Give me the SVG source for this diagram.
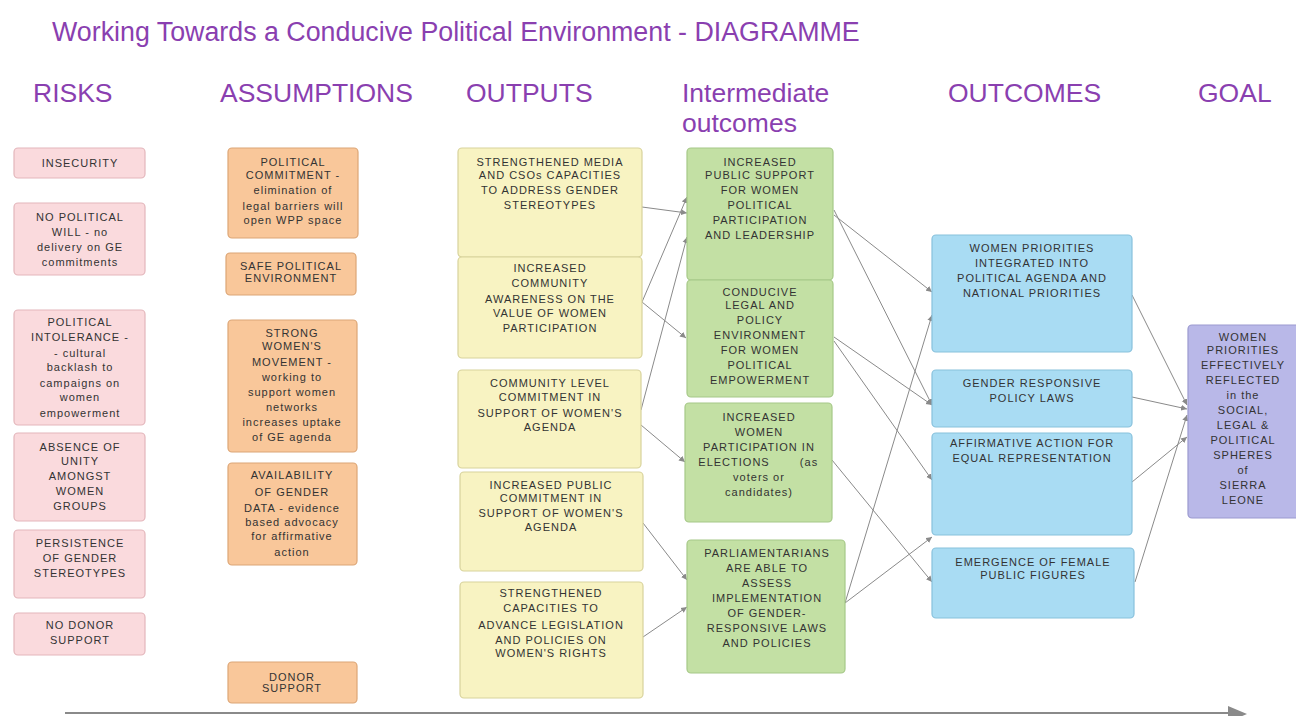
<svg xmlns="http://www.w3.org/2000/svg" width="1296" height="716" viewBox="0 0 1296 716">
<defs>
<marker id="ah" markerWidth="7" markerHeight="7" refX="6" refY="3.5" orient="auto" markerUnits="userSpaceOnUse">
<path d="M0,0.5 L6,3.5 L0,6.5 z" fill="#8a8a8a"/>
</marker>
</defs>
<style>
.hd{font-family:"Liberation Sans",Arial,sans-serif;font-size:26.5px;fill:#8a3fb0}
.ttl{font-size:26.8px}
.t{font-family:"Liberation Sans",Arial,sans-serif;font-size:11px;fill:#333333;text-anchor:middle;letter-spacing:1px}
.risk{fill:#fadadd;stroke:#e3b6bb;stroke-width:1.2}
.asm{fill:#f9c79a;stroke:#dca676;stroke-width:1.2}
.out{fill:#f8f3c2;stroke:#d8d39c;stroke-width:1.2}
.int{fill:#c3e0a4;stroke:#a6c888;stroke-width:1.2}
.oc{fill:#a9dcf3;stroke:#88c1dc;stroke-width:1.2}
.goal{fill:#b9b8e8;stroke:#9b99cf;stroke-width:1.2}
.c{stroke:#8a8a8a;stroke-width:1;fill:none;marker-end:url(#ah)}
</style>
<rect width="1296" height="716" fill="#ffffff"/>

<g id="title">
<text class="hd ttl" x="52" y="41">Working Towards a Conducive Political Environment - DIAGRAMME</text>
</g>
<g id="headers">
<text class="hd" x="33" y="102">RISKS</text>
<text class="hd" x="220" y="102">ASSUMPTIONS</text>
<text class="hd" x="466" y="102">OUTPUTS</text>
<text class="hd" x="682" y="102">Intermediate</text>
<text class="hd" x="682" y="132">outcomes</text>
<text class="hd" x="948" y="102">OUTCOMES</text>
<text class="hd" x="1198" y="102">GOAL</text>
</g>

<g id="connectors">
<line class="c" x1="642" y1="207" x2="687" y2="213"/>
<line class="c" x1="642" y1="302" x2="687" y2="197"/>
<line class="c" x1="642" y1="302" x2="686" y2="338"/>
<line class="c" x1="641" y1="410" x2="687" y2="237"/>
<line class="c" x1="641" y1="425" x2="685" y2="462"/>
<line class="c" x1="643" y1="523" x2="687" y2="580"/>
<line class="c" x1="643" y1="637" x2="687" y2="607"/>
<line class="c" x1="834" y1="215" x2="932" y2="292"/>
<line class="c" x1="834" y1="210" x2="932" y2="405"/>
<line class="c" x1="834" y1="337" x2="932" y2="405"/>
<line class="c" x1="834" y1="341" x2="932" y2="480"/>
<line class="c" x1="832" y1="460" x2="932" y2="582"/>
<line class="c" x1="845" y1="603" x2="932" y2="315"/>
<line class="c" x1="845" y1="603" x2="932" y2="537"/>
<line class="c" x1="1132" y1="295" x2="1187" y2="405"/>
<line class="c" x1="1132" y1="397" x2="1187" y2="409"/>
<line class="c" x1="1132" y1="482" x2="1187" y2="437"/>
<line class="c" x1="1135" y1="582" x2="1187" y2="415"/>
<line x1="65" y1="713" x2="1230" y2="713" stroke="#8a8a8a" stroke-width="2"/>
<polygon points="1228,706 1247,714 1228,722" fill="#8a8a8a"/>
</g>

<g id="risk-insecurity">
<rect class="risk" x="14" y="148" width="131" height="30" rx="4"/>
<text class="t" y="167"><tspan x="80">INSECURITY</tspan></text>
</g>
<g id="risk-no-political-will">
<rect class="risk" x="14" y="203" width="131" height="72" rx="4"/>
<text class="t"><tspan x="80" y="221">NO POLITICAL</tspan><tspan x="80" y="236">WILL - no</tspan><tspan x="80" y="251">delivery on GE</tspan><tspan x="80" y="266">commitments</tspan></text>
</g>
<g id="risk-intolerance">
<rect class="risk" x="14" y="310" width="131" height="115" rx="4"/>
<text class="t"><tspan x="80" y="326">POLITICAL</tspan><tspan x="80" y="341">INTOLERANCE -</tspan><tspan x="80" y="357">- cultural</tspan><tspan x="80" y="371">backlash to</tspan><tspan x="80" y="387">campaigns on</tspan><tspan x="80" y="401">women</tspan><tspan x="80" y="417">empowerment</tspan></text>
</g>
<g id="risk-absence-unity">
<rect class="risk" x="14" y="433" width="131" height="88" rx="4"/>
<text class="t"><tspan x="80" y="451">ABSENCE OF</tspan><tspan x="80" y="465">UNITY</tspan><tspan x="80" y="480">AMONGST</tspan><tspan x="80" y="495">WOMEN</tspan><tspan x="80" y="510">GROUPS</tspan></text>
</g>
<g id="risk-stereotypes">
<rect class="risk" x="14" y="530" width="131" height="68" rx="4"/>
<text class="t"><tspan x="80" y="547">PERSISTENCE</tspan><tspan x="80" y="562">OF GENDER</tspan><tspan x="80" y="577">STEREOTYPES</tspan></text>
</g>
<g id="risk-no-donor">
<rect class="risk" x="14" y="613" width="131" height="42" rx="4"/>
<text class="t"><tspan x="80" y="629">NO DONOR</tspan><tspan x="80" y="644">SUPPORT</tspan></text>
</g>

<g id="asm-political-commitment">
<rect class="asm" x="228" y="148" width="130" height="90" rx="4"/>
<text class="t"><tspan x="293" y="166">POLITICAL</tspan><tspan x="293" y="179">COMMITMENT -</tspan><tspan x="293" y="194">elimination of</tspan><tspan x="293" y="210">legal barriers will</tspan><tspan x="293" y="224">open WPP space</tspan></text>
</g>
<g id="asm-safe-environment">
<rect class="asm" x="226" y="253" width="130" height="42" rx="4"/>
<text class="t"><tspan x="291" y="270">SAFE POLITICAL</tspan><tspan x="291" y="282">ENVIRONMENT</tspan></text>
</g>
<g id="asm-womens-movement">
<rect class="asm" x="228" y="320" width="129" height="132" rx="4"/>
<text class="t"><tspan x="292" y="337">STRONG</tspan><tspan x="292" y="350">WOMEN'S</tspan><tspan x="292" y="366">MOVEMENT -</tspan><tspan x="292" y="381">working to</tspan><tspan x="292" y="396">support women</tspan><tspan x="292" y="411">networks</tspan><tspan x="292" y="426">increases uptake</tspan><tspan x="292" y="441">of GE agenda</tspan></text>
</g>
<g id="asm-gender-data">
<rect class="asm" x="228" y="463" width="129" height="102" rx="4"/>
<text class="t"><tspan x="292" y="479">AVAILABILITY</tspan><tspan x="292" y="496">OF GENDER</tspan><tspan x="292" y="512">DATA - evidence</tspan><tspan x="292" y="526">based advocacy</tspan><tspan x="292" y="540">for affirmative</tspan><tspan x="292" y="556">action</tspan></text>
</g>
<g id="asm-donor-support">
<rect class="asm" x="228" y="662" width="129" height="41" rx="4"/>
<text class="t"><tspan x="292" y="681">DONOR</tspan><tspan x="292" y="692">SUPPORT</tspan></text>
</g>

<g id="out-media">
<rect class="out" x="458" y="148" width="184" height="109" rx="4"/>
<text class="t"><tspan x="550" y="166">STRENGTHENED MEDIA</tspan><tspan x="550" y="179">AND CSOs CAPACITIES</tspan><tspan x="550" y="194">TO ADDRESS GENDER</tspan><tspan x="550" y="209">STEREOTYPES</tspan></text>
</g>
<g id="out-community-awareness">
<rect class="out" x="458" y="257" width="184" height="101" rx="4"/>
<text class="t"><tspan x="550" y="272">INCREASED</tspan><tspan x="550" y="287">COMMUNITY</tspan><tspan x="550" y="303">AWARENESS ON THE</tspan><tspan x="550" y="317">VALUE OF WOMEN</tspan><tspan x="550" y="332">PARTICIPATION</tspan></text>
</g>
<g id="out-community-commitment">
<rect class="out" x="458" y="370" width="183" height="98" rx="4"/>
<text class="t"><tspan x="550" y="387">COMMUNITY LEVEL</tspan><tspan x="550" y="401">COMMITMENT IN</tspan><tspan x="550" y="417">SUPPORT OF WOMEN'S</tspan><tspan x="550" y="431">AGENDA</tspan></text>
</g>
<g id="out-public-commitment">
<rect class="out" x="460" y="472" width="183" height="99" rx="4"/>
<text class="t"><tspan x="551" y="489">INCREASED PUBLIC</tspan><tspan x="551" y="502">COMMITMENT IN</tspan><tspan x="551" y="517">SUPPORT OF WOMEN'S</tspan><tspan x="551" y="531">AGENDA</tspan></text>
</g>
<g id="out-capacities">
<rect class="out" x="460" y="582" width="183" height="116" rx="4"/>
<text class="t"><tspan x="551" y="597">STRENGTHENED</tspan><tspan x="551" y="612">CAPACITIES TO</tspan><tspan x="551" y="629">ADVANCE LEGISLATION</tspan><tspan x="551" y="644">AND POLICIES ON</tspan><tspan x="551" y="657">WOMEN'S RIGHTS</tspan></text>
</g>

<g id="int-public-support">
<rect class="int" x="687" y="148" width="146" height="132" rx="4"/>
<text class="t"><tspan x="760" y="166">INCREASED</tspan><tspan x="760" y="179">PUBLIC SUPPORT</tspan><tspan x="760" y="194">FOR WOMEN</tspan><tspan x="760" y="209">POLITICAL</tspan><tspan x="760" y="224">PARTICIPATION</tspan><tspan x="760" y="239">AND LEADERSHIP</tspan></text>
</g>
<g id="int-conducive-legal">
<rect class="int" x="687" y="280" width="146" height="117" rx="4"/>
<text class="t"><tspan x="760" y="296">CONDUCIVE</tspan><tspan x="760" y="309">LEGAL AND</tspan><tspan x="760" y="324">POLICY</tspan><tspan x="760" y="339">ENVIRONMENT</tspan><tspan x="760" y="354">FOR WOMEN</tspan><tspan x="760" y="369">POLITICAL</tspan><tspan x="760" y="384">EMPOWERMENT</tspan></text>
</g>
<g id="int-women-elections">
<rect class="int" x="685" y="403" width="147" height="119" rx="4"/>
<text class="t"><tspan x="759" y="421">INCREASED</tspan><tspan x="759" y="436">WOMEN</tspan><tspan x="759" y="451">PARTICIPATION IN</tspan><tspan x="734" y="466">ELECTIONS</tspan><tspan x="809" y="466">(as</tspan><tspan x="759" y="481">voters or</tspan><tspan x="759" y="496">candidates)</tspan></text>
</g>
<g id="int-parliamentarians">
<rect class="int" x="687" y="540" width="158" height="133" rx="4"/>
<text class="t"><tspan x="767" y="557">PARLIAMENTARIANS</tspan><tspan x="767" y="572">ARE ABLE TO</tspan><tspan x="767" y="587">ASSESS</tspan><tspan x="767" y="602">IMPLEMENTATION</tspan><tspan x="767" y="617">OF  GENDER-</tspan><tspan x="767" y="632">RESPONSIVE LAWS</tspan><tspan x="767" y="647">AND POLICIES</tspan></text>
</g>

<g id="oc-women-priorities">
<rect class="oc" x="932" y="235" width="200" height="117" rx="4"/>
<text class="t"><tspan x="1032" y="252">WOMEN PRIORITIES</tspan><tspan x="1032" y="267">INTEGRATED INTO</tspan><tspan x="1032" y="282">POLITICAL AGENDA AND</tspan><tspan x="1032" y="297">NATIONAL PRIORITIES</tspan></text>
</g>
<g id="oc-gender-responsive">
<rect class="oc" x="932" y="370" width="200" height="57" rx="4"/>
<text class="t"><tspan x="1032" y="387">GENDER RESPONSIVE</tspan><tspan x="1032" y="402">POLICY LAWS</tspan></text>
</g>
<g id="oc-affirmative">
<rect class="oc" x="932" y="433" width="200" height="102" rx="4"/>
<text class="t"><tspan x="1032" y="447">AFFIRMATIVE ACTION FOR</tspan><tspan x="1032" y="462">EQUAL REPRESENTATION</tspan></text>
</g>
<g id="oc-female-figures">
<rect class="oc" x="932" y="548" width="202" height="70" rx="4"/>
<text class="t"><tspan x="1033" y="566">EMERGENCE OF FEMALE</tspan><tspan x="1033" y="579">PUBLIC FIGURES</tspan></text>
</g>

<g id="goal">
<rect class="goal" x="1188" y="325" width="115" height="193" rx="4"/>
<text class="t"><tspan x="1243" y="341">WOMEN</tspan><tspan x="1243" y="354">PRIORITIES</tspan><tspan x="1243" y="369">EFFECTIVELY</tspan><tspan x="1243" y="384">REFLECTED</tspan><tspan x="1243" y="399">in the</tspan><tspan x="1243" y="414">SOCIAL,</tspan><tspan x="1243" y="429">LEGAL &amp;</tspan><tspan x="1243" y="444">POLITICAL</tspan><tspan x="1243" y="459">SPHERES</tspan><tspan x="1243" y="474">of</tspan><tspan x="1243" y="489">SIERRA</tspan><tspan x="1243" y="504">LEONE</tspan></text>
</g>
</svg>
